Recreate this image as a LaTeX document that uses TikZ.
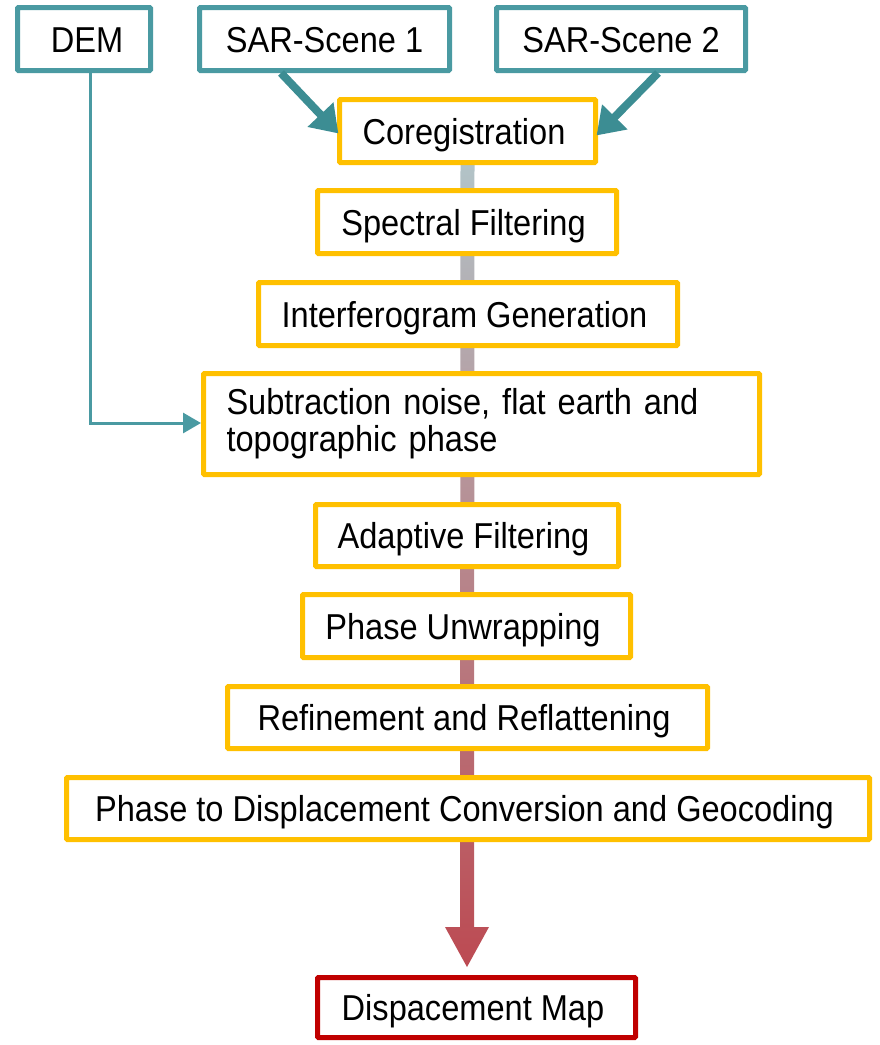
\documentclass[tikz,border=0pt]{standalone}
\usepackage{fontspec}
\setmainfont[FakeStretch=0.905]{Liberation Sans}
\usetikzlibrary{backgrounds,calc,arrows.meta}
\definecolor{teal1}{HTML}{4A9AA2}
\definecolor{teal2}{HTML}{3C8D93}
\definecolor{gold}{HTML}{FFC000}
\definecolor{darkred}{HTML}{C00000}
\definecolor{bartop}{HTML}{B2C3C7}
\definecolor{barbot}{HTML}{BC4A52}
\tikzset{
  base/.style={draw, fill=white, line width=5pt, inner sep=0pt, font=\fontsize{36}{37}\selectfont, rounded corners=1pt},
  oneline/.style={text height=26pt, text depth=0pt},
  leftish/.style={execute at end node={\hspace*{7pt}}},
  inbox/.style={base, oneline, draw=teal1},
  stepbox/.style={base, oneline, leftish, draw=gold},
  multibox/.style={base, draw=gold},
  outbox/.style={base, oneline, leftish, draw=darkred},
}
\begin{document}
\begin{tikzpicture}[x=1pt,y=-1pt]
\useasboundingbox (0,0) rectangle (879,1045);
\node[inbox, minimum width=133pt, minimum height=63pt, execute at begin node={\hspace*{6pt}}] (dem) at (84,39) {DEM};
\node[inbox, minimum width=250pt, minimum height=63pt] (s1) at (324.5,39) {SAR-Scene 1};
\node[inbox, minimum width=249pt, minimum height=63pt] (s2) at (621,39) {SAR-Scene 2};
\node[stepbox, minimum width=256pt, minimum height=63pt] (coreg) at (467.5,131) {Coregistration};
\node[stepbox, minimum width=299pt, minimum height=63pt] (spec) at (467,222) {Spectral Filtering};
\node[stepbox, minimum width=419pt, minimum height=63pt] (ifg) at (468,314) {Interferogram Generation};
\node[multibox, minimum width=556pt, minimum height=101pt, align=left, text width=510pt] (sub) at (481.5,424) {Subtraction noise, flat earth and\\topographic phase};
\node[stepbox, minimum width=303pt, minimum height=62pt] (adf) at (467,535.5) {Adaptive Filtering};
\node[stepbox, minimum width=328pt, minimum height=63pt] (unw) at (466.5,626) {Phase Unwrapping};
\node[stepbox, minimum width=480pt, minimum height=62pt] (ref) at (467.5,717.5) {Refinement and Reflattening};
\node[stepbox, minimum width=803pt, minimum height=62pt] (geo) at (468,808.5) {Phase to Displacement Conversion and Geocoding};
\node[outbox, minimum width=318pt, minimum height=60pt] (dmap) at (476.5,1007.5) {Dispacement Map};
\coordinate (tip) at (467,967);
\begin{pgfonlayer}{background}
\shade[top color=bartop, bottom color=barbot]
  ($(coreg.south)+(-7,0)$) -- ($(tip)+(-7,-40)$) -- ($(tip)+(-22,-40)$) -- (tip)
  -- ($(tip)+(22,-40)$) -- ($(tip)+(7,-40)$) -- ($(coreg.south)+(7,0)$) -- cycle;
\end{pgfonlayer}
\draw[teal2, line width=8pt, -{Triangle[length=26pt,width=34pt]}, shorten >=-2pt] (281,73) -- ([yshift=-1pt]coreg.west);
\draw[teal2, line width=8pt, -{Triangle[length=26pt,width=34pt]}, shorten >=-2pt] (658,73) -- ([yshift=-3pt]coreg.east);
\draw[teal1, line width=3pt, -{Triangle[length=18pt,width=20pt]}] ([xshift=6pt]dem.south) |- ([yshift=1pt]sub.west);
\end{tikzpicture}
\end{document}
